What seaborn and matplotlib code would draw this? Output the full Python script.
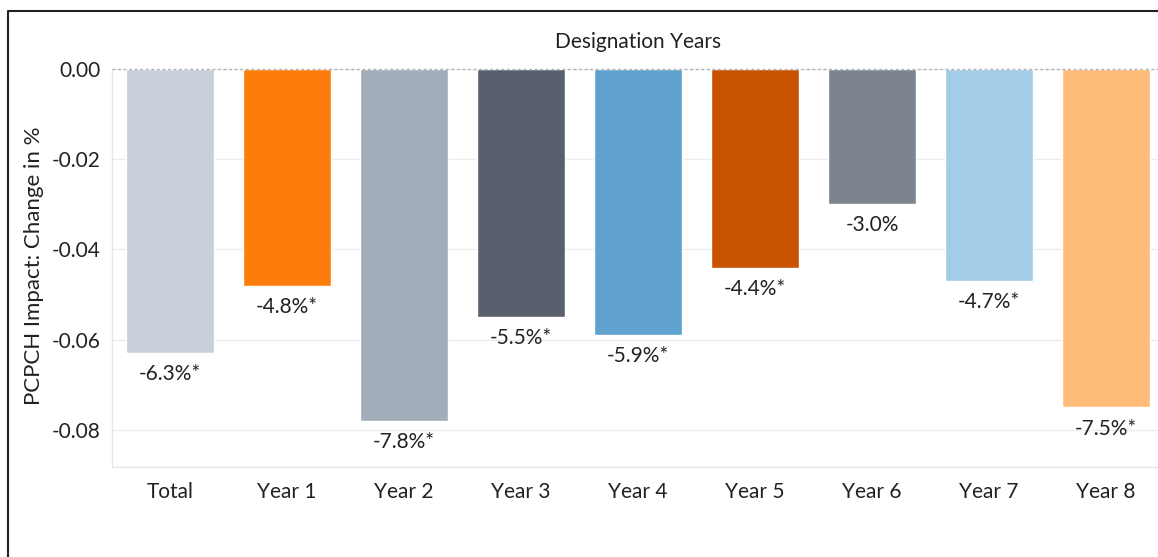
import matplotlib
matplotlib.use("Agg")
import matplotlib.pyplot as plt
import seaborn as sns
import pandas as pd
import numpy as np
from matplotlib.lines import Line2D

categories = ["Total", "Year 1", "Year 2", "Year 3", "Year 4", "Year 5", "Year 6", "Year 7", "Year 8"]
values = [-0.063, -0.048, -0.078, -0.055, -0.059, -0.044, -0.030, -0.047, -0.075]
labels = ["-6.3%*", "-4.8%*", "-7.8%*", "-5.5%*", "-5.9%*", "-4.4%*", "-3.0%", "-4.7%*", "-7.5%*"]
colors = ["#c8d0d9", "#fc7d0b", "#a3acb9", "#57606c", "#5fa2ce", "#c85200", "#7b848f", "#a3cce9", "#ffbc79"]
yticks = [0.0, -0.02, -0.04, -0.06, -0.08]
ytick_labels = ["0.00", "-0.02", "-0.04", "-0.06", "-0.08"]

sns.set_theme(style="white")
plt.rcParams["font.family"] = ["Lato", "DejaVu Sans"]

text_color = "#222222"
df = pd.DataFrame({"cat": categories, "val": values})

fig = plt.figure(figsize=(11.58, 5.57), dpi=100)
ax = fig.add_axes([111.5 / 1158, 1 - 467 / 557, 1053 / 1158, (467 - 69) / 557])

sns.barplot(data=df, x="cat", y="val", hue="cat", palette=colors, order=categories,
            hue_order=categories, legend=False, width=0.75, ax=ax, saturation=1)

ax.set_ylim(-0.0882, 0)
ax.set_xlim(-0.5, len(categories) - 0.5)
ax.set_yticks(yticks)
ax.set_yticklabels(ytick_labels)
ax.yaxis.grid(True, color="#ececec", linewidth=1)
ax.set_axisbelow(True)
ax.axhline(0, color="#b0b0b0", linestyle=(0, (2, 2)), linewidth=1, clip_on=False, zorder=5)

for s in ["top", "right"]:
    ax.spines[s].set_visible(False)
for s in ["left", "bottom"]:
    ax.spines[s].set_color("#e6e6e6")
    ax.spines[s].set_linewidth(1)

ax.tick_params(axis="y", length=0, pad=8, labelsize=15, labelcolor=text_color)
ax.tick_params(axis="x", which="major", length=0, pad=11, labelsize=15, labelcolor=text_color)
ax.set_xticks(np.arange(len(categories)) - 0.5, minor=True)
ax.tick_params(axis="x", which="minor", length=6, color="#e6e6e6", width=1)

ax.set_xlabel("")
ax.set_ylabel("PCPCH Impact: Change in %", fontsize=16, color=text_color)
ax.yaxis.set_label_coords(-0.064, 0.505)
ax.set_title("Designation Years", fontsize=15, color=text_color, pad=15)

for i, (v, lab) in enumerate(zip(values, labels)):
    ax.annotate(lab, xy=(i, v), xytext=(0, -8), textcoords="offset points",
                ha="center", va="top", fontsize=15, color=text_color)

fig.add_artist(Line2D([8 / 1158, 8 / 1158, 1.0], [0.0, 1 - 11 / 557, 1 - 11 / 557],
                      transform=fig.transFigure, color="#222222", linewidth=1.5))

fig.savefig("out.png", dpi=100)
